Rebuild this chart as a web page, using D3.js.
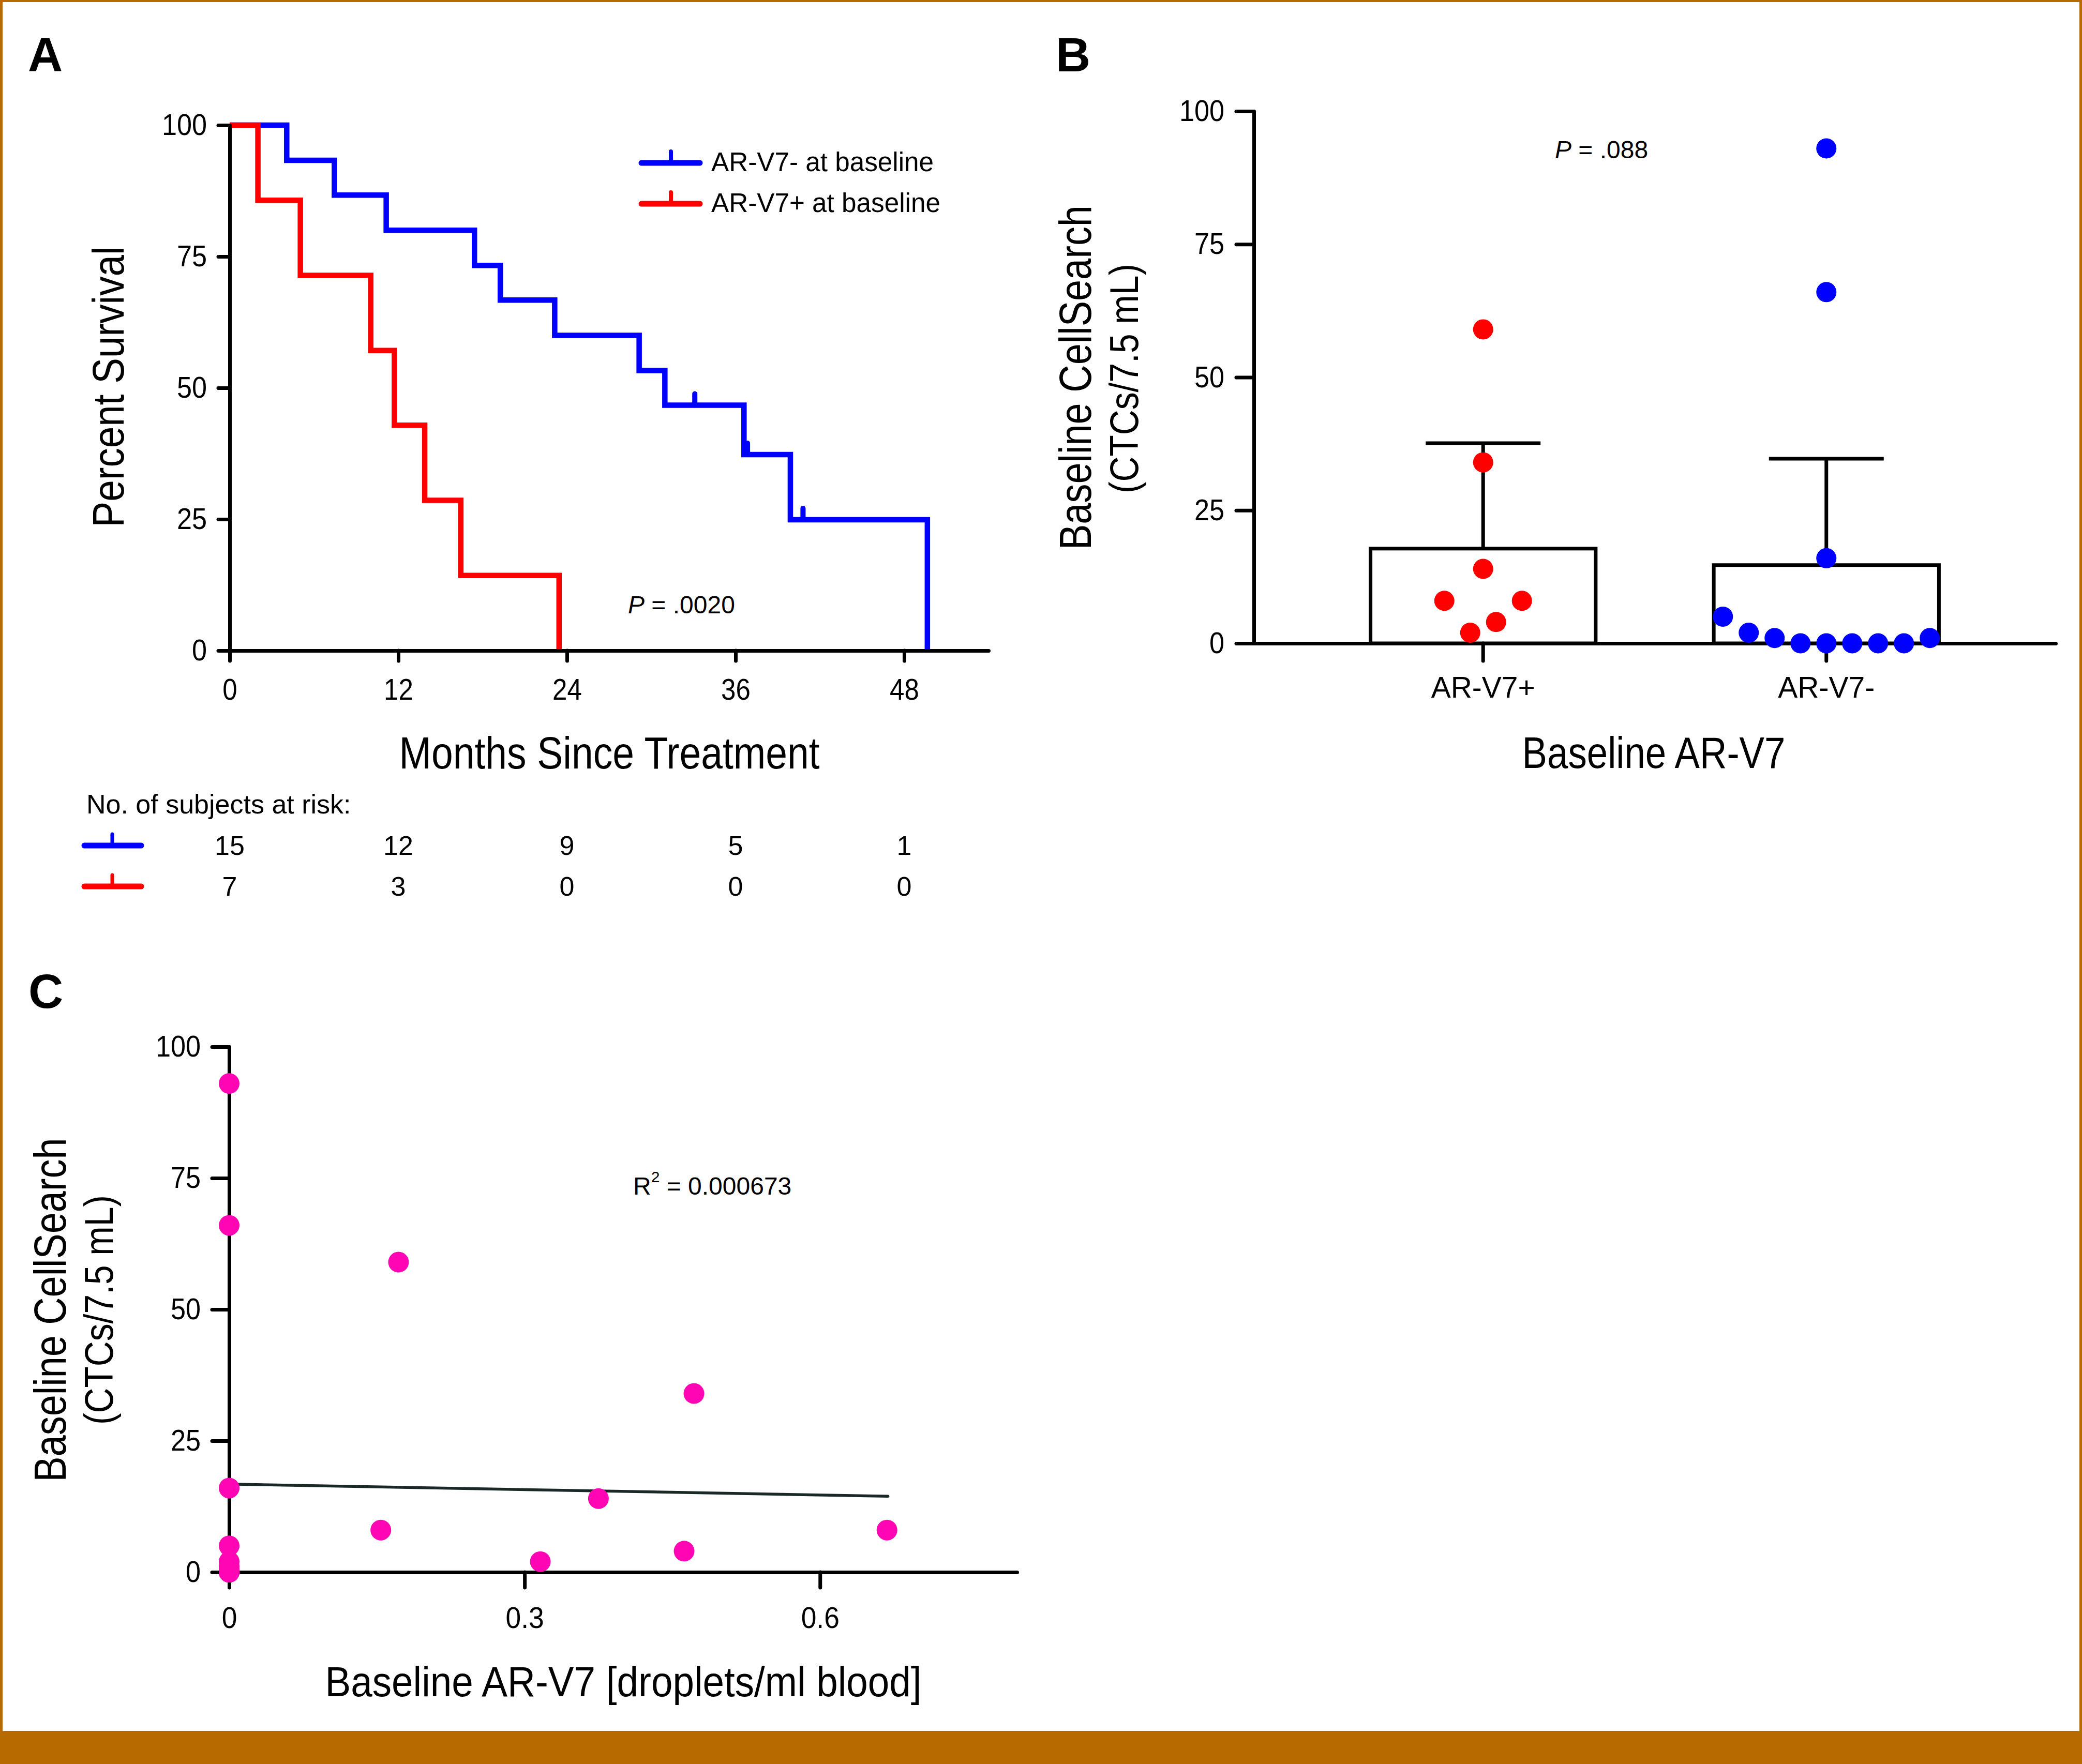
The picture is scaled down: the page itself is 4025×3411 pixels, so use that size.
<!DOCTYPE html>
<html><head><meta charset="utf-8">
<script src="https://cdn.jsdelivr.net/npm/d3@7"></script>
<style>html,body{margin:0;padding:0;background:#fff;overflow:hidden}</style>
</head><body>
<script>
// ================= DATA =================
// Panel A: Kaplan-Meier
const kmTicks = [0, 12, 24, 36, 48];
const percentTicks = [0, 25, 50, 75, 100];
const kmNegTimes = [0, 4.06, 7.45, 11.14, 17.42, 19.26, 23.13, 29.14, 30.97, 36.6, 39.9, 49.65];
const kmNegSurv  = [100, 93.3, 86.7, 80, 73.3, 66.7, 60, 53.3, 46.7, 37.3, 24.9, 0];
const kmNegCensorTimes = [33.1, 36.85, 40.8];
const kmNegCensorSurv  = [46.7, 37.3, 24.9];
const kmPosTimes = [0, 2.01, 5.03, 10.04, 11.72, 13.88, 16.45, 23.44];
const kmPosSurv  = [100, 85.7, 71.4, 57.1, 42.9, 28.6, 14.3, 0];
const kmLegend = ['AR-V7- at baseline', 'AR-V7+ at baseline'];
const atRiskNeg = [15, 12, 9, 5, 1];
const atRiskPos = [7, 3, 0, 0, 0];

// Panel B: bar + scatter
const groupsB = ['AR-V7+', 'AR-V7-'];
const ctcPos = [59, 34, 14, 8, 2, 4, 8];
const ctcNeg = [93, 66, 16, 5, 2, 1, 0, 0, 0, 0, 0, 1];
const barMeans = [17.8, 14.7];
const barErrTop = [37.6, 34.7];

// Panel C: scatter + regression
const dropletsC = [0, 0, 0, 0, 0, 0, 0, 0, 0, 0, 0, 0, 0.172, 0.472, 0.375, 0.154, 0.316, 0.462, 0.668];
const ctcC      = [93, 66, 16, 5, 2, 1, 0, 0, 0, 0, 0, 1, 59, 34, 14, 8, 2, 4, 8];
const fitX = [0, 0.669];
const fitY = [16.75, 14.44];
const cTickValues = [0, 0.3, 0.6];
const cTickLabels = ['0', '0.3', '0.6'];

// ================= STYLE =================
const FONT = "'Liberation Sans', Arial, Helvetica, sans-serif";
const BLUE = '#0000ff', RED = '#ff0000', PINK = '#ff05b4', ORANGE = '#b66a00';

const svg = d3.select('body').append('svg').attr('width', 4025).attr('height', 3411);
svg.append('rect').attr('width', 4025).attr('height', 3411).attr('fill', '#fff');

function condense(sel, k) {
  sel.each(function () {
    const L = this.getComputedTextLength();
    d3.select(this).attr('textLength', L * k).attr('lengthAdjust', 'spacingAndGlyphs');
  });
}
function styleAxis(g, fs, k) {
  g.attr('font-family', FONT);
  g.select('.domain').attr('stroke', '#000').attr('stroke-width', 7).attr('stroke-linecap', 'round');
  g.selectAll('.tick line').attr('stroke', '#000').attr('stroke-width', 7).attr('stroke-linecap', 'round');
  g.selectAll('.tick text').attr('font-family', FONT).attr('font-size', fs).attr('fill', '#000');
  if (k) condense(g.selectAll('.tick text'), k);
}
function text(x, y, str, fs, opt = {}) {
  const t = svg.append('text').attr('font-family', FONT).attr('font-size', fs).attr('fill', '#000')
    .attr('text-anchor', opt.anchor || 'start');
  if (opt.rotate) t.attr('transform', `translate(${x},${y}) rotate(${opt.rotate})`);
  else t.attr('x', x).attr('y', y);
  if (opt.bold) t.attr('font-weight', 'bold');
  if (opt.len) t.attr('textLength', opt.len).attr('lengthAdjust', 'spacingAndGlyphs');
  t.text(str);
  return t;
}

// ================= PANEL A =================
const xA = d3.scaleLinear().domain([0, 54]).range([444, 1911]);
const yA = d3.scaleLinear().domain([0, 100]).range([1258, 242]);

text(54, 137, 'A', 93, { bold: true });

const stepLine = d3.line().x(d => xA(d[0])).y(d => yA(d[1])).curve(d3.curveStepAfter);
svg.append('path').datum(d3.zip(kmNegTimes, kmNegSurv)).attr('d', stepLine)
  .attr('fill', 'none').attr('stroke', BLUE).attr('stroke-width', 10.5);
svg.append('g').selectAll('line').data(d3.zip(kmNegCensorTimes, kmNegCensorSurv)).join('line')
  .attr('x1', d => xA(d[0])).attr('x2', d => xA(d[0]))
  .attr('y1', d => yA(d[1])).attr('y2', d => yA(d[1]) - 22)
  .attr('stroke', BLUE).attr('stroke-width', 10).attr('stroke-linecap', 'round');
svg.append('path').datum(d3.zip(kmPosTimes, kmPosSurv)).attr('d', stepLine)
  .attr('fill', 'none').attr('stroke', RED).attr('stroke-width', 10.5);

const gAy = svg.append('g').attr('transform', `translate(${xA(0)},0)`)
  .call(d3.axisLeft(yA).tickValues(percentTicks).tickSize(22).tickPadding(22).tickSizeOuter(0));
styleAxis(gAy, 58, 0.9);
const gAx = svg.append('g').attr('transform', `translate(0,${yA(0)})`)
  .call(d3.axisBottom(xA).tickValues(kmTicks).tickSize(20).tickPadding(34).tickSizeOuter(0));
styleAxis(gAx, 58, 0.88);

text(239, 748, 'Percent Survival', 85, { anchor: 'middle', rotate: -90, len: 543 });
text(1178, 1486, 'Months Since Treatment', 87, { anchor: 'middle', len: 813 });

// legend
[BLUE, RED].forEach((c, i) => {
  const ly = [315, 394][i];
  svg.append('line').attr('x1', 1240).attr('x2', 1353).attr('y1', ly).attr('y2', ly)
    .attr('stroke', c).attr('stroke-width', 11).attr('stroke-linecap', 'round');
  svg.append('line').attr('x1', 1297).attr('x2', 1297).attr('y1', ly).attr('y2', ly - 22)
    .attr('stroke', c).attr('stroke-width', 8).attr('stroke-linecap', 'round');
  text(1375, ly + 16, kmLegend[i], 51, { len: [430, 443][i] });
});

const pA = text(1214, 1186, '', 48);
pA.append('tspan').attr('font-style', 'italic').text('P');
pA.append('tspan').text(' = .0020');

// at-risk table
text(167, 1573, 'No. of subjects at risk:', 52);
[[BLUE, atRiskNeg, 1635], [RED, atRiskPos, 1714]].forEach(([c, vals, ry]) => {
  svg.append('line').attr('x1', 163).attr('x2', 273).attr('y1', ry).attr('y2', ry)
    .attr('stroke', c).attr('stroke-width', 11).attr('stroke-linecap', 'round');
  svg.append('line').attr('x1', 217).attr('x2', 217).attr('y1', ry).attr('y2', ry - 22)
    .attr('stroke', c).attr('stroke-width', 7).attr('stroke-linecap', 'round');
  svg.append('g').selectAll('text').data(vals).join('text')
    .attr('x', (d, i) => xA(kmTicks[i])).attr('y', ry + 18)
    .attr('text-anchor', 'middle').attr('font-family', FONT).attr('font-size', 52).text(d => d);
});

// ================= PANEL B =================
const yB = d3.scaleLinear().domain([0, 100]).range([1244, 215]);
const xB = d3.scaleBand().domain(groupsB).range([2424, 3974]).paddingInner(0.344).paddingOuter(0.34);

text(2041, 138, 'B', 93, { bold: true });

const bw = xB.bandwidth();
svg.append('g').selectAll('rect').data(groupsB).join('rect')
  .attr('x', d => xB(d)).attr('width', bw)
  .attr('y', (d, i) => yB(barMeans[i])).attr('height', (d, i) => yB(0) - yB(barMeans[i]))
  .attr('fill', '#fff').attr('stroke', '#000').attr('stroke-width', 7);
groupsB.forEach((g, i) => {
  const cx = xB(g) + bw / 2;
  svg.append('line').attr('x1', cx).attr('x2', cx).attr('y1', yB(barMeans[i])).attr('y2', yB(barErrTop[i]))
    .attr('stroke', '#000').attr('stroke-width', 7);
  svg.append('line').attr('x1', cx - bw * 0.255).attr('x2', cx + bw * 0.255)
    .attr('y1', yB(barErrTop[i])).attr('y2', yB(barErrTop[i]))
    .attr('stroke', '#000').attr('stroke-width', 7);
});

const gBy = svg.append('g').attr('transform', `translate(2424,0)`)
  .call(d3.axisLeft(yB).tickValues(percentTicks).tickSize(34).tickPadding(23).tickSizeOuter(0));
styleAxis(gBy, 58, 0.9);
const gBx = svg.append('g').attr('transform', `translate(0,${yB(0)})`)
  .call(d3.axisBottom(xB).tickSize(34).tickPadding(31).tickSizeOuter(0));
styleAxis(gBx, 57, 0);

// swarm layout: points whose pixel gap is small are grouped into one row, spread in array order
function swarm(vals, center, gap, spacing) {
  const idx = vals.map((v, i) => i).sort((a, b) => vals[a] - vals[b]);
  const clusters = [];
  let cur = [idx[0]];
  for (let k = 1; k < idx.length; k++) {
    if (Math.abs(yB(vals[idx[k]]) - yB(vals[idx[k - 1]])) < gap) cur.push(idx[k]);
    else { clusters.push(cur); cur = [idx[k]]; }
  }
  clusters.push(cur);
  const xs = new Array(vals.length);
  clusters.forEach(cl => {
    cl.sort((a, b) => a - b);
    cl.forEach((id, j) => { xs[id] = center + (j - (cl.length - 1) / 2) * spacing; });
  });
  return vals.map((v, i) => [xs[i], yB(v)]);
}
[[ctcPos, RED, groupsB[0]], [ctcNeg, BLUE, groupsB[1]]].forEach(([vals, c, g]) => {
  const pts = swarm(vals, xB(g) + bw / 2, 45, 50);
  svg.append('g').selectAll('circle').data(pts).join('circle')
    .attr('cx', d => d[0]).attr('cy', d => d[1]).attr('r', 19.5).attr('fill', c);
});

const pB = text(3006, 306, '', 48);
pB.append('tspan').attr('font-style', 'italic').text('P');
pB.append('tspan').text(' = .088');

text(2109, 730, 'Baseline CellSearch', 88, { anchor: 'middle', rotate: -90, len: 666 });
text(2200, 732, '(CTCs/7.5 mL)', 78, { anchor: 'middle', rotate: -90, len: 444 });
text(3197, 1485, 'Baseline AR-V7', 85, { anchor: 'middle', len: 509 });

// ================= PANEL C =================
const xC = d3.scaleLinear().domain([0, 0.8]).range([443, 1966]);
const yC = d3.scaleLinear().domain([0, 100]).range([3040, 2024]);

text(55, 1949, 'C', 93, { bold: true });

const gCy = svg.append('g').attr('transform', `translate(${xC(0)},0)`)
  .call(d3.axisLeft(yC).tickValues(percentTicks).tickSize(33).tickPadding(22).tickSizeOuter(0));
styleAxis(gCy, 58, 0.9);
const gCx = svg.append('g').attr('transform', `translate(0,${yC(0)})`)
  .call(d3.axisBottom(xC).tickValues(cTickValues).tickFormat((d, i) => cTickLabels[i])
    .tickSize(30).tickPadding(37).tickSizeOuter(0));
styleAxis(gCx, 58, 0.92);

svg.append('path').datum(d3.zip(fitX, fitY))
  .attr('d', d3.line().x(d => xC(d[0])).y(d => yC(d[1])))
  .attr('fill', 'none').attr('stroke', '#1a2828').attr('stroke-width', 5.5).attr('stroke-linecap', 'round');

svg.append('g').selectAll('circle').data(d3.zip(dropletsC, ctcC)).join('circle')
  .attr('cx', d => xC(d[0])).attr('cy', d => yC(d[1])).attr('r', 20).attr('fill', PINK);

const r2 = text(1224, 2310, '', 48);
r2.append('tspan').text('R');
r2.append('tspan').attr('font-size', 30).attr('dy', -24).text('2');
r2.append('tspan').attr('dy', 24).text(' = 0.000673');

text(127, 2533, 'Baseline CellSearch', 88, { anchor: 'middle', rotate: -90, len: 665 });
text(218, 2533, '(CTCs/7.5 mL)', 78, { anchor: 'middle', rotate: -90, len: 444 });
text(1205, 3280, 'Baseline AR-V7 [droplets/ml blood]', 82, { anchor: 'middle', len: 1153 });

// ================= FRAME =================
svg.append('rect').attr('x', 0).attr('y', 0).attr('width', 5).attr('height', 3411).attr('fill', ORANGE);
svg.append('rect').attr('x', 4020).attr('y', 0).attr('width', 5).attr('height', 3411).attr('fill', ORANGE);
svg.append('rect').attr('x', 0).attr('y', 0).attr('width', 4025).attr('height', 4).attr('fill', ORANGE);
svg.append('rect').attr('x', 0).attr('y', 3347).attr('width', 4025).attr('height', 64).attr('fill', ORANGE);
</script>
</body></html>
